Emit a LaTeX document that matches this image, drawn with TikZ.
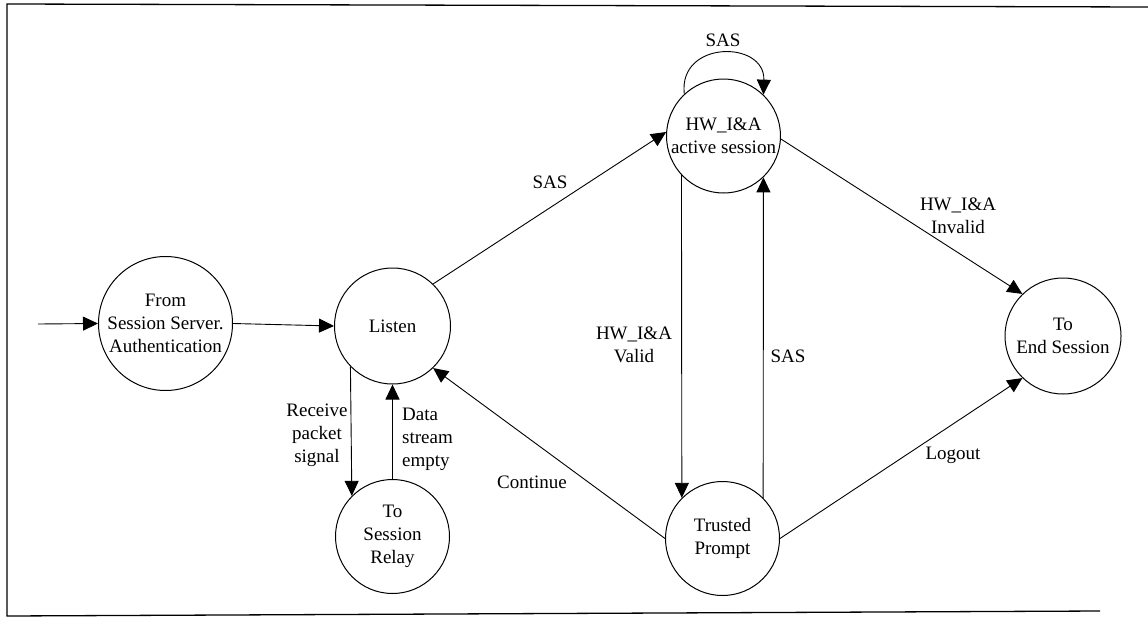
\documentclass[tikz,border=0pt]{standalone}
\usepackage{fontspec}
\setmainfont{Liberation Serif}
\usetikzlibrary{arrows.meta}
\begin{document}
\begin{tikzpicture}[x=1pt,y=-1pt,
  state/.style={draw, circle, line width=1pt, inner sep=0pt, align=center, font=\fontsize{19}{23}\selectfont},
  lbl/.style={inner sep=0pt, align=center, font=\fontsize{19}{23}\selectfont},
  edge/.style={line width=0.9pt, -{Triangle[length=15pt,width=14pt]}},
  frame/.style={line width=1.3pt}]
\useasboundingbox (0,0) rectangle (1148,621);
% frame (scanned: left, top and bottom sides)
\draw[frame] (1148,7) -- (7,4) -- (7,616) -- (1100,611);
% states
\node[state, minimum size=134pt] (from) at (165.5,323.5) {From\\Session Server.\\Authentication};
\node[state, minimum size=116pt] (listen) at (392.5,326) {Listen};
\node[state, minimum size=114pt] (relay) at (392.5,536.5) {To\\Session\\Relay};
\node[state, minimum size=114pt] (hw) at (723.5,136) {HW\_I\&A\\active session};
\node[state, minimum size=114pt] (trusted) at (722.5,538.5) {Trusted\\Prompt};
\node[state, minimum size=116pt] (endS) at (1063,336) {To\\End Session};
\coordinate (start) at (38,324);
% connectors
\draw[edge] (start) -- (from.west);
\draw[edge] (from.east) -- (listen.west);
\draw[edge] (listen.224) -- (relay.135);
\draw[edge] (relay.north) -- (listen.south);
\draw[edge] (listen.46) -- (hw.176);
\draw[edge] (hw.133) .. controls (678,40) and (765,40) .. (hw.46);
\draw[edge] (hw.223) -- (trusted.135);
\draw[edge] (trusted.45) -- (hw.314);
\draw[edge] (hw.357) -- (endS.134);
\draw[edge] (trusted.0) -- (endS.226);
\draw[edge] (trusted.180) -- (listen.314);
% labels
\node[lbl] (l1) at (550,182) {SAS};
\node[lbl] (l2) at (723,40) {SAS};
\node[lbl] (l3) at (634,344.5) {HW\_I\&A\\Valid};
\node[lbl] (l4) at (788,356) {SAS};
\node[lbl] (l5) at (958,215.5) {HW\_I\&A\\Invalid};
\node[lbl] (l6) at (953,455) {Logout};
\node[lbl] (l7) at (532,482) {Continue};
\node[lbl] (l8) at (317,435) {Receive\\packet\\signal};
\node[lbl, align=left, anchor=west] (l9) at (402,439) {Data\\stream\\empty};
\end{tikzpicture}
\end{document}
